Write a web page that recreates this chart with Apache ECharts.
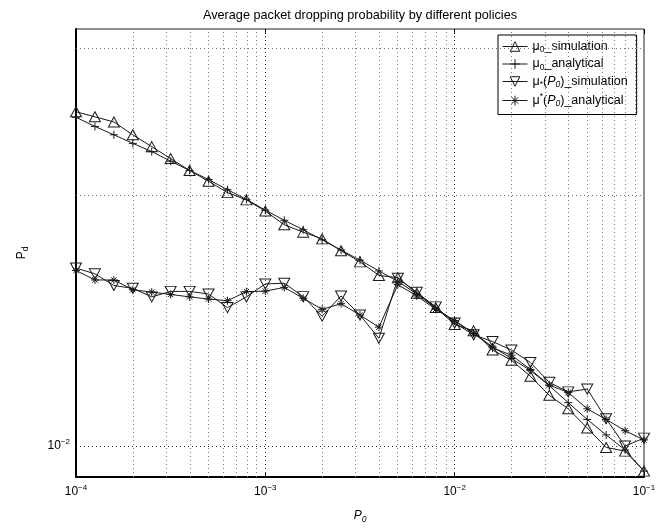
<!DOCTYPE html>
<html><head><meta charset="utf-8">
<script src="https://cdn.jsdelivr.net/npm/echarts@6/dist/echarts.min.js"></script>
<style>html,body{margin:0;padding:0;background:#fff}#c{width:669px;height:531px}</style>
</head><body><div id="c"></div>
<script>
// ---- data ----
const P0 = [0.0001, 0.0001259, 0.0001585, 0.0001995, 0.0002512, 0.0003162, 0.0003981, 0.0005012, 0.000631, 0.0007943,
  0.001, 0.001259, 0.001585, 0.001995, 0.002512, 0.003162, 0.003981, 0.005012, 0.00631, 0.007943,
  0.01, 0.01259, 0.01585, 0.01995, 0.02512, 0.03162, 0.03981, 0.05012, 0.0631, 0.07943, 0.1];
const mu0Simulation = [0.02515,0.02480,0.02445,0.02360,0.02284,0.02210,0.02139,0.02076,0.02012,0.01972,
  0.01912,0.01841,0.01804,0.01771,0.01714,0.01662,0.01601,0.01591,0.01524,0.01465,
  0.01398,0.01374,0.01303,0.01267,0.01212,0.01150,0.01108,0.01051,0.00996,0.00986,0.00933];
const mu0Analytical = [0.02477,0.02415,0.02360,0.02305,0.02253,0.02194,0.02139,0.02086,0.02028,0.01975,
  0.01917,0.01864,0.01816,0.01766,0.01717,0.01670,0.01621,0.01575,0.01521,0.01462,
  0.01411,0.01365,0.01315,0.01273,0.01232,0.01181,0.01127,0.01076,0.01031,0.00989,0.00933];
const muStarSimulation = [0.01634,0.01608,0.01557,0.01545,0.01509,0.01532,0.01532,0.01521,0.01465,0.01509,
  0.01564,0.01567,0.01510,0.01431,0.01513,0.01435,0.01346,0.01589,0.01528,0.01468,
  0.01404,0.01359,0.01334,0.01303,0.01259,0.01192,0.01161,0.01170,0.01078,0.01000,0.01022];
const muStarAnalytical = [0.01623,0.01581,0.01581,0.01539,0.01529,0.01519,0.01509,0.01500,0.01493,0.01531,
  0.01533,0.01549,0.01503,0.01458,0.01481,0.01435,0.01388,0.01561,0.01513,0.01458,
  0.01414,0.01365,0.01311,0.01285,0.01235,0.01183,0.01159,0.01108,0.01076,0.01043,0.01017];
const seriesNames = ['mu0_simulation', 'mu0_analytical', 'mustar_simulation', 'mustar_analytical'];
const legendLabels = {
  mu0_simulation: '{t|μ}{sub|0}{t|_simulation}',
  mu0_analytical: '{t|μ}{sub|0}{t|_analytical}',
  mustar_simulation: '{t|μ}{sub|*}{t|(}{it|P}{isub|0}{t|)_simulation}',
  mustar_analytical: '{t|μ}{sup|*}{t|(}{it|P}{isub|0}{t|)_analytical}'
};
const titleText = 'Average packet dropping probability by different policies';
const xMin = 0.0001, xMax = 0.1;
const yMin = 0.00918, yMax = 0.0316;
const xMinorGrid = [0.0002,0.0003,0.0004,0.0005,0.0006,0.0007,0.0008,0.0009,
  0.002,0.003,0.004,0.005,0.006,0.007,0.008,0.009,
  0.02,0.03,0.04,0.05,0.06,0.07,0.08,0.09];
const xMajorGrid = [0.001, 0.01];
const yGrid = [0.02, 0.03];
const yMajorGrid = [0.01];

// ---- styles ----
const FONT = '"Liberation Sans", Arial, Helvetica, sans-serif';
function rich(fs) {
  return {
    t: {fontSize: fs, fontFamily: FONT, color: '#000', lineHeight: 16},
    it: {fontSize: fs, fontFamily: FONT, color: '#000', fontStyle: 'italic', lineHeight: 16},
    sub: {fontSize: 8.5, fontFamily: FONT, color: '#000', verticalAlign: 'bottom', lineHeight: 10},
    isub: {fontSize: 8.5, fontFamily: FONT, color: '#000', fontStyle: 'italic', verticalAlign: 'bottom', lineHeight: 10},
    sup: {fontSize: 8.5, fontFamily: FONT, color: '#000', verticalAlign: 'top', lineHeight: 10},
    b: {fontSize: 12, fontFamily: FONT, color: '#000', lineHeight: 16},
    s: {fontSize: 8, fontFamily: FONT, color: '#000', verticalAlign: 'top', lineHeight: 10}
  };
}
const richBase = rich(12);
const richLegend = rich(12.5);
const LINE = '#1a1a1a';
const plusPath = 'path://M5,0L5,10M0,5L10,5';
const starPath = 'path://M5,0L5,10M0,5L10,5M1.6,1.6L8.4,8.4M1.6,8.4L8.4,1.6';
const hollow = {color: 'rgba(255,255,255,0)', borderColor: LINE, borderWidth: 1};

function pairs(ys) { return P0.map((x, i) => [x, ys[i]]); }
function expLabel(v) {
  const e = Math.round(Math.log10(v));
  return '{b|10}{s|' + (e < 0 ? '−' : '') + Math.abs(e) + '}';
}
const gridDot = {type: [1, 3], color: '#777', width: 1};
const gridDotMajor = {type: [1, 3], color: '#333', width: 1};
function vLine(v, style) {
  return [{coord: [v, yMin], lineStyle: style}, {coord: [v, yMax]}];
}
function hLine(v, style, label) {
  return [{coord: [xMin, v], lineStyle: style, label: label}, {coord: [xMax, v]}];
}

const chart = echarts.init(document.getElementById('c'), null, {renderer: 'canvas'});
chart.setOption({
  backgroundColor: '#fff',
  animation: false,
  title: {
    text: titleText, left: 360, top: 9, textAlign: 'center', padding: 0,
    textStyle: {fontSize: 12.7, fontWeight: 'normal', fontFamily: FONT, color: '#000'}
  },
  grid: {left: 76, right: 25, top: 29, bottom: 54, show: true, borderColor: '#222', borderWidth: 1, backgroundColor: 'transparent'},
  legend: {
    orient: 'vertical', left: 498, top: 35, padding: [5, 9, 6, 4],
    itemWidth: 25, itemHeight: 12, itemGap: 3,
    backgroundColor: '#fff', borderColor: '#000', borderWidth: 1,
    data: seriesNames,
    formatter: n => legendLabels[n],
    lineStyle: {width: 1},
    itemStyle: {borderWidth: 1},
    textStyle: {rich: richLegend, fontFamily: FONT, fontSize: 12.5, padding: [0, 0, 0, 0]}
  },
  xAxis: [{
    type: 'log', logBase: 10, min: xMin, max: xMax,
    name: '{it|P}{isub|0}', nameLocation: 'middle', nameGap: 31,
    nameTextStyle: {rich: richBase},
    axisLine: {show: true, lineStyle: {color: '#000', width: 2}},
    axisTick: {show: true, inside: true, length: 5, lineStyle: {color: '#000'}},
    axisLabel: {formatter: expLabel, margin: 7, rich: richBase},
    splitLine: {show: false}
  }, {
    type: 'log', logBase: 10, min: xMin, max: xMax, position: 'top',
    axisLine: {show: false},
    axisTick: {show: true, inside: true, length: 5, lineStyle: {color: '#000'}},
    axisLabel: {show: false}, splitLine: {show: false}
  }],
  yAxis: {
    type: 'log', logBase: 10, min: yMin, max: yMax,
    name: '{t|P}{sub|d}', nameLocation: 'middle', nameGap: 46, nameRotate: 90,
    nameTextStyle: {rich: richBase},
    axisLine: {show: true, lineStyle: {color: '#000', width: 2}},
    axisTick: {show: false}, axisLabel: {show: false}, splitLine: {show: false}
  },
  series: [
    {
      type: 'line', name: '__grid', data: [], silent: true, legendHoverLink: false,
      markLine: {
        silent: true, symbol: ['none', 'none'], animation: false, precision: 10,
        label: {show: false},
        lineStyle: gridDot,
        data: [].concat(
          xMinorGrid.map(v => vLine(v, gridDot)),
          xMajorGrid.map(v => vLine(v, gridDotMajor)),
          yGrid.map(v => hLine(v, gridDot, {show: false})),
          yMajorGrid.map(v => hLine(v, gridDotMajor,
            {show: true, position: 'start', distance: 6, formatter: expLabel(v), rich: richBase}))
        )
      }
    },
    {
      type: 'line', name: seriesNames[0], data: pairs(mu0Simulation),
      symbol: 'triangle', symbolSize: [11, 10], showAllSymbol: true,
      lineStyle: {color: LINE, width: 1}, itemStyle: hollow, z: 5
    },
    {
      type: 'line', name: seriesNames[1], data: pairs(mu0Analytical),
      symbol: plusPath, symbolSize: 8, showAllSymbol: true,
      lineStyle: {color: LINE, width: 1}, itemStyle: hollow, z: 5
    },
    {
      type: 'line', name: seriesNames[2], data: pairs(muStarSimulation),
      symbol: 'triangle', symbolRotate: 180, symbolSize: [11, 10], showAllSymbol: true,
      lineStyle: {color: LINE, width: 1}, itemStyle: hollow, z: 5
    },
    {
      type: 'line', name: seriesNames[3], data: pairs(muStarAnalytical),
      symbol: starPath, symbolSize: 8, showAllSymbol: true,
      lineStyle: {color: LINE, width: 1}, itemStyle: hollow, z: 5
    }
  ]
});
</script></body></html>
